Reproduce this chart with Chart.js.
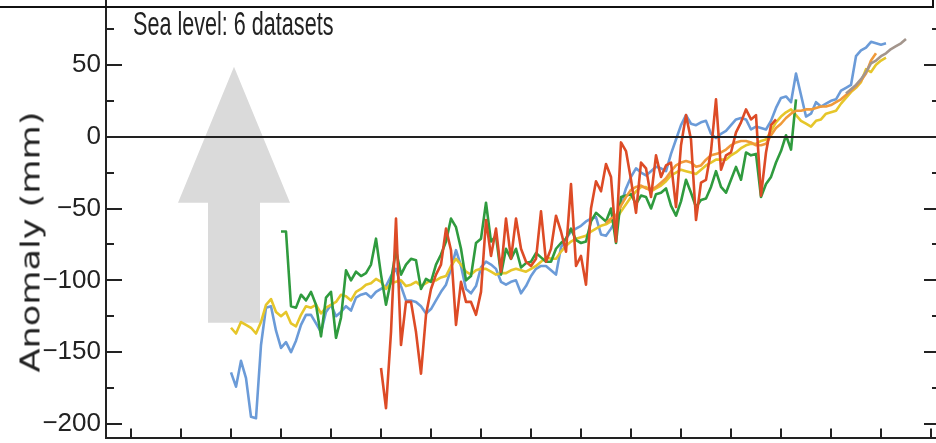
<!DOCTYPE html>
<html lang="en">
<head>
<meta charset="UTF-8">
<title>Sea level: 6 datasets</title>
<script src="https://cdn.jsdelivr.net/npm/chart.js@4.4.0/dist/chart.umd.min.js"></script>
<style>
    * { margin: 0; padding: 0; box-sizing: border-box; }
    html, body { width: 936px; height: 443px; overflow: hidden; background: #fff; }
    #wrap { position: absolute; left: 0; top: -47px; width: 960px; height: 506px; }
    #frame { position: absolute; left: -4px; top: -20px; width: 938px; height: 28px; border: 2px solid #111; }
    #label {
        position: absolute; left: 133px; top: 6px;
        font-family: 'Liberation Sans', sans-serif;
        font-size: 34px; line-height: 34px; color: #222; white-space: nowrap;
        transform: scaleX(0.635); transform-origin: left top;
    }
    #ytitle {
        position: absolute; left: 30px; top: 242px;
        font-family: 'DejaVu Sans', sans-serif; font-size: 27px; color: #222; white-space: nowrap;
        transform: translate(-50%, -50%) rotate(-90deg) scaleX(1.3);
    }
</style>
</head>
<body>
<div id="wrap"><canvas id="chart" width="960" height="506"></canvas></div>
<div id="frame"></div>
<div id="label">Sea level: 6 datasets</div>
<div id="ytitle">Anomaly (mm)</div>

<script>
// axis ticks
const yTicks = [-200, -150, -100, -50, 0, 50, 100];
const xTicks = [1850, 1860, 1870, 1880, 1890, 1900, 1910, 1920, 1930, 1940, 1950, 1960, 1970, 1980, 1990, 2000, 2010];

// annual anomalies (mm)
const blueStart = 1870;
const blue = [
    -164, -174, -156, -168, -195, -196, -145, -119, -118, -135,
    -147, -143, -150, -142, -131, -124, -124, -130, -136, -122,
    -117, -125, -122, -118, -121, -112, -110, -109, -112, -108,
    -106, -104, -97, -92, -104, -114, -114, -115, -118, -123,
    -120, -114, -108, -103, -92, -79, -90, -106, -109, -104,
    -91, -87, -89, -92, -101, -103, -101, -100, -109, -104,
    -97, -92, -90, -90, -93, -96, -77, -71, -66, -64,
    -62, -59, -57, -56, -68, -69, -64, -58, -47, -36,
    -28, -22, -25, -27, -24, -21, -22, -24, -12, -2,
    8, 15, 9, 8, 10, 11, 2, -1, 2, 4,
    8, 12, 13, 12, 5, 7, 6, 5, 11, 20,
    27, 28, 24, 44, 29, 14, 16, 24, 21, 23,
    25, 26, 32, 34, 36, 56, 60, 62, 66, 65,
    64, 65
];

const yellowStart = 1870;
const yellow = [
    -133, -137, -129, -131, -133, -137, -129, -117, -113, -122,
    -125, -122, -130, -132, -124, -118, -119, -117, -123, -119,
    -117, -115, -110, -111, -114, -108, -106, -103, -102, -99,
    -101, -106, -102, -101, -100, -104, -103, -101, -104, -102,
    -100, -100, -98, -97, -90, -85, -89, -94, -96, -93,
    -92, -92, -94, -96, -95, -95, -93, -92, -93, -94,
    -92, -90, -87, -84, -85, -85, -80, -76, -73, -71,
    -70, -69, -66, -64, -62, -61, -59, -58, -52, -47,
    -42, -38, -35, -35, -38, -36, -34, -31, -27, -25,
    -23, -24, -25, -26, -23, -20, -18, -16, -16, -16,
    -13, -11, -8, -6, -5, -5, -3, -2, 4, 10,
    14, 17, 19, 15, 11, 9, 7, 11, 12, 16,
    17, 18, 23, 27, 31, 34, 38, 47, 45, 50,
    53, 55
];

const greenStart = 1880;
const green = [
    -66, -66, -118, -119, -110, -114, -108, -117, -139, -112,
    -108, -140, -126, -93, -100, -94, -97, -95, -89, -71,
    -96, -117, -100, -79, -96, -89, -85, -86, -106, -99,
    -101, -89, -82, -73, -57, -63, -78, -100, -97, -74,
    -71, -46, -73, -69, -96, -78, -85, -78, -91, -88,
    -87, -81, -84, -87, -87, -78, -74, -71, -64, -72,
    -74, -73, -59, -53, -56, -59, -50, -74, -42, -41,
    -40, -47, -41, -42, -50, -40, -39, -36, -48, -55,
    -45, -30, -39, -49, -44, -43, -35, -24, -35, -39,
    -30, -21, -30, -11, -13, -12, -42, -33, -28, -18,
    -10, 1, -9, 26
];

const redStart = 1900;
const red = [
    -161, -189, -136, -57, -145, -115, -115, -136, -165, -124,
    -106, -96, -89, -64, -79, -131, -101, -115, -115, -124,
    -108, -58, -83, -64, -94, -57, -85, -57, -78, -87,
    -90, -85, -52, -87, -78, -55, -66, -80, -33, -90,
    -83, -103, -50, -31, -38, -19, -28, -73, -4, -10,
    -30, -53, -18, -22, -42, -13, -28, -20, -18, -49,
    -6, 15, -2, -58, -32, -30, -10, 26, -23, -13,
    -11, 3, 10, 19, 12, 15, -41, -11, 8, 12
];

const orangeStart = 1945;
const orange = [
    -60, -57, -55, -48, -42,
    -37, -35, -34, -36, -37, -35, -32, -29, -24, -20,
    -18, -17, -18, -21, -20, -16, -13, -12, -11, -9,
    -6, -4, -3, -3, -4, -6, -6, -5, 1, 6,
    9, 13, 16, 18, 18, 19, 19, 20, 21, 21,
    22, 24, 26, 29, 32, 35, 39, 44, 53, 58
];

const grayStart = 1993;
const gray = [30, 33, 36, 40, 45, 51, 53, 56, 58, 61, 63, 65, 68];

function points(start, values) {
    return values.map((v, i) => ({ x: start + i, y: v }));
}

function series(start, values, color, order) {
    return {
        data: points(start, values),
        borderColor: color,
        borderWidth: 2.6,
        pointRadius: 0,
        tension: 0,
        borderJoinStyle: 'round',
        order: order
    };
}

// big grey arrow, in axis units
const arrow = { x: 1870.6, tip: 48.6, headBase: -46, headHalf: 11.2, shaftHalf: 5.2, bottom: -129.5 };

const decor = {
    id: 'decor',
    beforeDatasetsDraw(chart) {
        const { ctx, scales: { x, y } } = chart;
        const px = v => x.getPixelForValue(v);
        const py = v => y.getPixelForValue(v);
        ctx.save();
        ctx.fillStyle = '#dadada';
        ctx.beginPath();
        ctx.moveTo(px(arrow.x), py(arrow.tip));
        ctx.lineTo(px(arrow.x + arrow.headHalf), py(arrow.headBase));
        ctx.lineTo(px(arrow.x + arrow.shaftHalf), py(arrow.headBase));
        ctx.lineTo(px(arrow.x + arrow.shaftHalf), py(arrow.bottom));
        ctx.lineTo(px(arrow.x - arrow.shaftHalf), py(arrow.bottom));
        ctx.lineTo(px(arrow.x - arrow.shaftHalf), py(arrow.headBase));
        ctx.lineTo(px(arrow.x - arrow.headHalf), py(arrow.headBase));
        ctx.closePath();
        ctx.fill();
        ctx.restore();
    },
    afterDatasetsDraw(chart) {
        const { ctx, chartArea: a, scales: { x, y } } = chart;
        ctx.save();
        ctx.strokeStyle = '#222';
        ctx.lineWidth = 2;
        // zero line
        const z = Math.round(y.getPixelForValue(0));
        ctx.beginPath();
        ctx.moveTo(a.left, z);
        ctx.lineTo(a.right, z);
        ctx.stroke();
        // y ticks, major and minor, on both sides
        ctx.beginPath();
        yTicks.forEach((v, i) => {
            const p = Math.round(y.getPixelForValue(v));
            ctx.moveTo(a.left, p); ctx.lineTo(a.left + 16, p);
            ctx.moveTo(a.right, p); ctx.lineTo(a.right - 16, p);
            if (i < yTicks.length - 1) {
                const m = Math.round(y.getPixelForValue((v + yTicks[i + 1]) / 2));
                ctx.moveTo(a.left, m); ctx.lineTo(a.left + 8, m);
                ctx.moveTo(a.right, m); ctx.lineTo(a.right - 8, m);
            }
        });
        // x ticks
        xTicks.forEach(v => {
            const p = Math.round(x.getPixelForValue(v));
            ctx.moveTo(p, a.bottom); ctx.lineTo(p, a.bottom - 10);
        });
        ctx.stroke();
        ctx.restore();
    }
};

new Chart(document.getElementById('chart'), {
    type: 'line',
    data: {
        datasets: [
            series(blueStart, blue, '#6b9bd8', 6),
            series(yellowStart, yellow, '#e6c62a', 5),
            series(greenStart, green, '#2f9b3e', 4),
            series(orangeStart, orange, '#f09a3a', 3),
            series(redStart, red, '#dd4b26', 2),
            series(grayStart, gray, '#a3958c', 1)
        ]
    },
    options: {
        responsive: false,
        animation: false,
        layout: { padding: { top: 40, right: 20, bottom: 0, left: 0 } },
        plugins: { legend: { display: false }, tooltip: { enabled: false } },
        scales: {
            x: {
                type: 'linear',
                min: 1845,
                max: 2011.8,
                grid: { display: false, drawTicks: false },
                border: { display: true, color: '#222', width: 2 },
                ticks: { display: false },
                afterBuildTicks: s => { s.ticks = xTicks.map(v => ({ value: v })); },
                afterFit: s => { s.height = 20; }
            },
            y: {
                min: -210,
                max: 100,
                grid: { display: false, drawTicks: false },
                border: { display: true, color: '#222', width: 2 },
                ticks: {
                    autoSkip: false,
                    includeBounds: false,
                    padding: 5,
                    color: '#222',
                    font: { family: "'Liberation Sans', sans-serif", size: 26 },
                    callback: v => String(v).replace('-', '\u2212')
                },
                afterBuildTicks: s => { s.ticks = yTicks.map(v => ({ value: v })); },
                afterFit: s => { s.width = 106; }
            }
        }
    },
    plugins: [decor]
});
</script>
</body>
</html>
